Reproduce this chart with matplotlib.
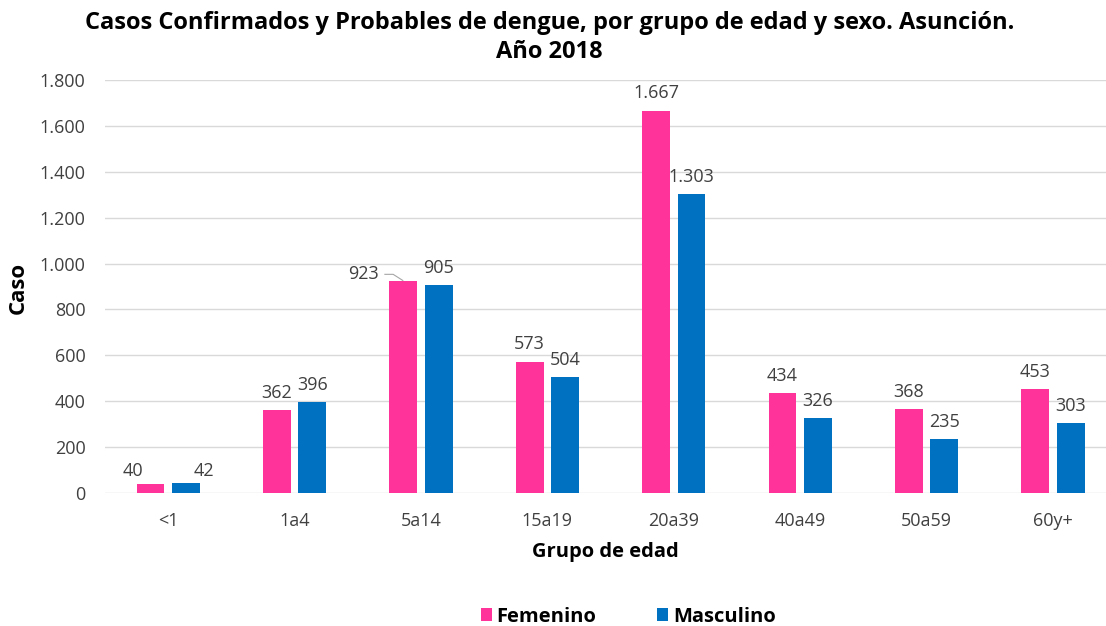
import numpy as np
import matplotlib
matplotlib.use('Agg')
import matplotlib.pyplot as plt
from matplotlib.ticker import FuncFormatter

plt.rcParams['font.family'] = ['Open Sans', 'DejaVu Sans']

groups = ['<1', '1a4', '5a14', '15a19', '20a39', '40a49', '50a59', '60y+']
femenino = [40, 362, 923, 573, 1667, 434, 368, 453]
masculino = [42, 396, 905, 504, 1303, 326, 235, 303]

pink = '#FF3399'
blue = '#0070C0'
txt = '#404040'

fig = plt.figure(figsize=(11.06, 6.26), dpi=100)
ax = fig.add_axes([105 / 1106, 133 / 626, 1001 / 1106, 413 / 626])

x = np.arange(len(groups))
w = 0.22
off = 0.14
ax.bar(x - off, femenino, w, color=pink, label='Femenino', zorder=3)
ax.bar(x + off, masculino, w, color=blue, label='Masculino', zorder=3)

def fmt(v):
    return f'{int(v):,}'.replace(',', '.')

lab = dict(fontsize=13, color=txt)
for i, (f, m) in enumerate(zip(femenino, masculino)):
    if groups[i] == '5a14':
        # label pushed left with a leader line, like the original
        ax.text(i - off - 0.19, f + 30, fmt(f), ha='right', va='center', **lab)
        ax.plot([i - off - 0.15, i - off - 0.08, i - off], [f + 30, f + 30, f + 2],
                color='#A6A6A6', lw=0.8, zorder=4, solid_capstyle='butt')
    elif groups[i] == '<1':
        ax.text(i - off - 0.14, 96, fmt(f), ha='center', va='center', **lab)
        ax.text(i + off + 0.14, 96, fmt(m), ha='center', va='center', **lab)
        continue
    else:
        ax.text(i - off, f + 35, fmt(f), ha='center', va='bottom', **lab)
    ax.text(i + off, m + 35, fmt(m), ha='center', va='bottom', **lab)

ax.set_xlim(-0.5, 7.42)
ax.set_ylim(0, 1800)
ax.set_yticks(np.arange(0, 1801, 200))
ax.yaxis.set_major_formatter(FuncFormatter(lambda v, p: fmt(v)))
ax.set_xticks(x)
ax.set_xticklabels(groups)
ax.tick_params(axis='both', length=0, labelsize=13, colors=txt)
ax.tick_params(axis='y', pad=14)
ax.tick_params(axis='x', pad=14)
ax.grid(axis='y', color='#D9D9D9', lw=1, zorder=0)
for s in ax.spines.values():
    s.set_visible(False)

ax.set_xlabel('Grupo de edad', fontsize=14.5, fontweight='bold', color='black', labelpad=8)
ax.set_ylabel('Caso', fontsize=16, fontweight='bold', color='black')
ax.yaxis.set_label_coords(-0.076, 0.496)

fig.text(0.497, 0.982, 'Casos Confirmados y Probables de dengue, por grupo de edad y sexo. Asunción.\nAño 2018',
         ha='center', va='top', fontsize=17, fontweight='bold', linespacing=1.25)

fig.legend(loc='center', bbox_to_anchor=(0.568, 0.015), ncol=2, frameon=False,
           prop={'weight': 'bold', 'size': 14.5}, handlelength=0.55,
           handleheight=0.55, handletextpad=0.25, columnspacing=3.0)

fig.savefig('out.png', dpi=100)
